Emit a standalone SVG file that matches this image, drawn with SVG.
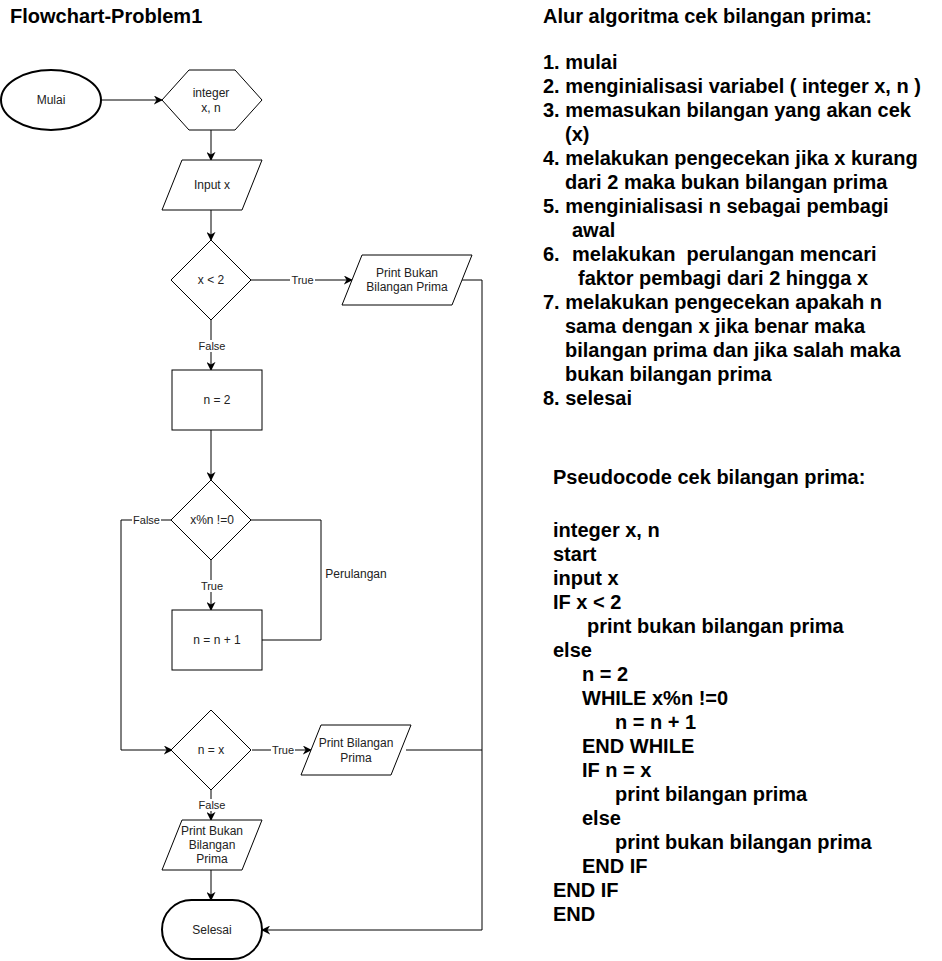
<svg xmlns="http://www.w3.org/2000/svg" width="942" height="961" viewBox="0 0 942 961">
<defs>
<style>
.shape{fill:#fff;stroke:#000;stroke-width:1}
.thick{fill:#fff;stroke:#000;stroke-width:2}
.nt{font-family:"Liberation Sans",Arial,sans-serif;font-size:12px;fill:#222;text-anchor:middle}
.lbl{font-family:"Liberation Sans",Arial,sans-serif;font-size:11px;fill:#222;text-anchor:middle}
.edge{fill:none;stroke:#000;stroke-width:1}
.big{font-family:"Liberation Sans",Arial,sans-serif;font-size:20px;font-weight:bold;fill:#000}
</style>
<marker id="arr" viewBox="0 0 10 10" refX="9" refY="5" markerWidth="9" markerHeight="9" markerUnits="userSpaceOnUse" orient="auto">
<path d="M0,0 L10,5 L0,10 L3,5 z" fill="#000"/>
</marker>
</defs>
<rect width="942" height="961" fill="#fff"/>

<text id="title" class="big" x="10" y="23">Flowchart-Problem1</text>

<g id="connectors">
<path class="edge" d="M101,100 L162,100" marker-end="url(#arr)"/>
<path class="edge" d="M211,130 L211,160" marker-end="url(#arr)"/>
<path class="edge" d="M211,210 L211,240" marker-end="url(#arr)"/>
<path class="edge" d="M251,280 L352,280" marker-end="url(#arr)"/>
<path class="edge" d="M211,320 L211,370" marker-end="url(#arr)"/>
<path class="edge" d="M211,430 L211,480" marker-end="url(#arr)"/>
<path class="edge" d="M211,560 L211,610" marker-end="url(#arr)"/>
<path class="edge" d="M262,640 L321,640 L321,520 L251,520"/>
<path class="edge" d="M172,520 L121,520 L121,750 L172,750" marker-end="url(#arr)"/>
<path class="edge" d="M252,750 L311,750" marker-end="url(#arr)"/>
<path class="edge" d="M211,790 L211,820" marker-end="url(#arr)"/>
<path class="edge" d="M211,870 L211,900" marker-end="url(#arr)"/>
<path class="edge" d="M462,280 L482,280 L482,930 L262,930" marker-end="url(#arr)"/>
<path class="edge" d="M406,750 L482,750"/>
<rect x="290" y="274" width="25" height="12" fill="#fff"/>
<text class="lbl" x="302.5" y="284">True</text>
<rect x="198" y="340" width="28" height="12" fill="#fff"/>
<text class="lbl" x="212" y="350">False</text>
<rect x="132" y="514" width="29" height="12" fill="#fff"/>
<text class="lbl" x="146.5" y="524">False</text>
<rect x="200" y="580" width="24" height="12" fill="#fff"/>
<text class="lbl" x="212" y="590">True</text>
<rect x="271" y="744" width="24" height="12" fill="#fff"/>
<text class="lbl" x="283" y="754">True</text>
<rect x="198" y="799" width="28" height="12" fill="#fff"/>
<text class="lbl" x="212" y="809">False</text>
<text class="nt" x="356" y="578">Perulangan</text>
</g>

<g id="mulai">
<ellipse class="thick" cx="51" cy="100" rx="50" ry="30"/>
<text class="nt" x="51" y="104">Mulai</text>
</g>
<g id="declare">
<polygon class="shape" points="162,100 189,70 235,70 262,100 235,130 189,130"/>
<text class="nt" x="211" y="97">integer</text>
<text class="nt" x="211" y="112">x, n</text>
</g>
<g id="input">
<polygon class="shape" points="182,160 262,160 242,210 162,210"/>
<text class="nt" x="212" y="189">Input x</text>
</g>
<g id="cond1">
<polygon class="shape" points="211,240 251,280 211,320 171,280"/>
<text class="nt" x="211" y="284">x &lt; 2</text>
</g>
<g id="printbukan1">
<polygon class="shape" points="362,255 472,255 452,305 342,305"/>
<text class="nt" x="407" y="277">Print Bukan</text>
<text class="nt" x="407" y="291">Bilangan Prima</text>
</g>
<g id="init">
<rect class="shape" x="172" y="370" width="90" height="60"/>
<text class="nt" x="217" y="404">n = 2</text>
</g>
<g id="cond2">
<polygon class="shape" points="211,480 251,520 211,560 171,520"/>
<text class="nt" x="212" y="524">x%n !=0</text>
</g>
<g id="incr">
<rect class="shape" x="172" y="610" width="90" height="60"/>
<text class="nt" x="217" y="644">n = n + 1</text>
</g>
<g id="cond3">
<polygon class="shape" points="211,710 251,750 211,790 171,750"/>
<text class="nt" x="211" y="754">n = x</text>
</g>
<g id="printprima">
<polygon class="shape" points="321,725 411,725 391,775 301,775"/>
<text class="nt" x="356" y="747">Print Bilangan</text>
<text class="nt" x="356" y="762">Prima</text>
</g>
<g id="printbukan2">
<polygon class="shape" points="182,820 262,820 242,870 162,870"/>
<text class="nt" x="212" y="835">Print Bukan</text>
<text class="nt" x="212" y="849">Bilangan</text>
<text class="nt" x="212" y="863">Prima</text>
</g>
<g id="selesai">
<rect class="thick" x="162" y="900" width="100" height="59" rx="29.5" ry="29.5"/>
<text class="nt" x="212" y="934">Selesai</text>
</g>

<g id="algoritma">
<text class="big" x="543" y="23">Alur algoritma cek bilangan prima:</text>
<text class="big" x="543" y="69">1. mulai</text>
<text class="big" x="543" y="93">2. menginialisasi variabel ( integer x, n )</text>
<text class="big" x="543" y="117">3. memasukan bilangan yang akan cek</text>
<text class="big" x="565" y="141">(x)</text>
<text class="big" x="543" y="165">4. melakukan pengecekan jika x kurang</text>
<text class="big" x="565" y="189">dari 2 maka bukan bilangan prima</text>
<text class="big" x="543" y="213">5. menginialisasi n sebagai pembagi</text>
<text class="big" x="572" y="237">awal</text>
<text class="big" x="543" y="261">6.</text>
<text class="big" x="572" y="261" xml:space="preserve">melakukan  perulangan mencari</text>
<text class="big" x="578" y="285">faktor pembagi dari 2 hingga x</text>
<text class="big" x="543" y="309">7. melakukan pengecekan apakah n</text>
<text class="big" x="565" y="333">sama dengan x jika benar maka</text>
<text class="big" x="565" y="357">bilangan prima dan jika salah maka</text>
<text class="big" x="565" y="381">bukan bilangan prima</text>
<text class="big" x="543" y="405">8. selesai</text>
</g>

<g id="pseudocode">
<text class="big" x="553" y="484">Pseudocode cek bilangan prima:</text>
<text class="big" x="553" y="537">integer x, n</text>
<text class="big" x="553" y="561">start</text>
<text class="big" x="553" y="585">input x</text>
<text class="big" x="553" y="609">IF x &lt; 2</text>
<text class="big" x="587" y="633">print bukan bilangan prima</text>
<text class="big" x="553" y="657">else</text>
<text class="big" x="582" y="681">n = 2</text>
<text class="big" x="582" y="705">WHILE x%n !=0</text>
<text class="big" x="615" y="729">n = n + 1</text>
<text class="big" x="582" y="753">END WHILE</text>
<text class="big" x="582" y="777">IF n = x</text>
<text class="big" x="615" y="801">print bilangan prima</text>
<text class="big" x="582" y="825">else</text>
<text class="big" x="615" y="849">print bukan bilangan prima</text>
<text class="big" x="582" y="873">END IF</text>
<text class="big" x="553" y="897">END IF</text>
<text class="big" x="553" y="921">END</text>
</g>
</svg>
